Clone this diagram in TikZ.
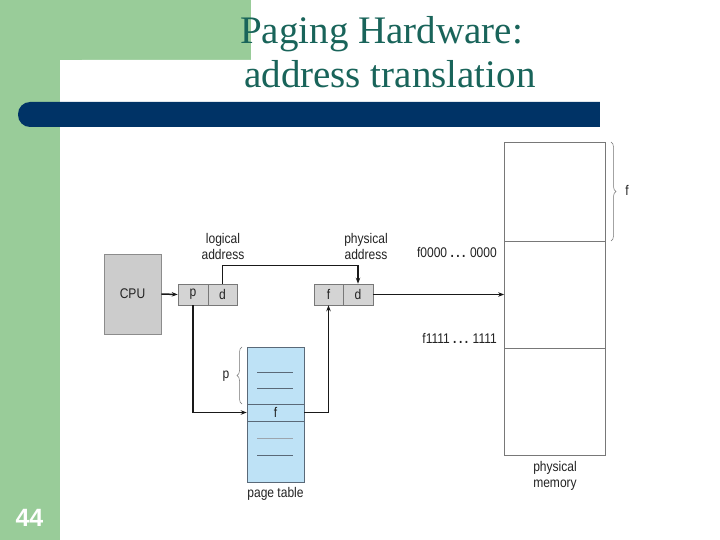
\documentclass[tikz,border=0pt]{standalone}
\usepackage{fontspec}
\setmainfont{Liberation Serif}
\newfontfamily\diag[FakeStretch=0.86]{Liberation Sans}
\newfontfamily\numfont{Liberation Sans}
\usetikzlibrary{arrows.meta,decorations.pathreplacing}
\definecolor{slidegreen}{RGB}{153,204,153}
\definecolor{barblue}{RGB}{0,51,102}
\definecolor{titleteal}{RGB}{25,100,90}
\definecolor{cellgray}{RGB}{212,212,212}
\definecolor{cellline}{RGB}{120,120,120}
\definecolor{ptblue}{RGB}{190,226,246}
\definecolor{ptline}{RGB}{90,105,120}
\definecolor{diagtext}{RGB}{35,35,35}
\newcommand{\mydots}{{\bfseries .\hspace{2.5pt}.\hspace{2.5pt}.}}
\begin{document}
\begin{tikzpicture}[x=1pt,y=-1pt,
  lbl/.style={font=\diag\fontsize{14}{16}\selectfont, text=diagtext, inner sep=0pt, align=center},
  cell/.style={draw=cellline, fill=cellgray, line width=0.6pt, minimum height=21pt, inner sep=0pt, text=diagtext, font=\diag\fontsize{14}{16}\selectfont},
  memcell/.style={draw=cellline, fill=white, line width=0.7pt, minimum width=101pt, inner sep=0pt},
  arr/.style={line width=1.5pt, draw=black!90, -{Stealth[length=6pt,width=4.5pt]}},
  brc/.style={draw=black!55, line width=0.5pt, decorate, decoration={brace, amplitude=5pt}}
]
\useasboundingbox (0,0) rectangle (720,540);
% slide background
\fill[slidegreen] (0,0) rectangle (60,540);
\fill[slidegreen] (0,0) rectangle (251,60);
\fill[white, rounded corners=22pt] (60,60) rectangle (760,580);
\fill[barblue, rounded corners=12pt] (18,102) rectangle (640,127);
\fill[barblue] (560,102) rectangle (600,127);
\fill[white] (600,100) rectangle (660,130);
% title
\node[anchor=base west, inner sep=0pt, text=titleteal, font=\fontsize{39}{44}\selectfont] (t1) at (240,44) {Paging Hardware:};
\node[anchor=base west, inner sep=0pt, text=titleteal, font=\fontsize{39}{44}\selectfont] (t2) at (244,88) {address translation};
\node[inner sep=0pt, text=white, font=\numfont\bfseries\fontsize{25}{27}\selectfont] (num) at (29.5,517.5) {44};
% CPU
\node[cell, minimum width=57pt, minimum height=80pt, fill=black!20, draw=black!45] (cpu) at (132.5,294) {CPU};
% logical address
\node[cell, minimum width=30pt] (p) at (193,294.5) {p};
\node[cell, minimum width=29pt] (d1) at (222.5,294.5) {d};
\node[lbl] (la) at (223,246) {logical\\address};
% physical address
\node[cell, minimum width=29pt] (f) at (328.5,294.5) {f};
\node[cell, minimum width=30pt] (d2) at (358,294.5) {d};
\node[lbl] (pa) at (366,246) {physical\\address};
% page table
\node[draw=ptline, fill=ptblue, line width=0.6pt, minimum width=57pt, minimum height=135pt, inner sep=0pt] (pt) at (275.5,414.5) {};
\node[draw=ptline, fill=ptblue, line width=0.6pt, minimum width=57pt, minimum height=17pt, inner sep=0pt, text=diagtext, font=\diag\fontsize{14}{16}\selectfont] (ptf) at (275.5,412.5) {f};
\draw[ptline, line width=0.7pt] (257,372) -- (293,372) (257,388) -- (293,388);
\draw[ptline!60, line width=0.7pt] (257,438) -- (293,438);
\draw[ptline, line width=0.7pt] (257,455) -- (293,455);
\draw[brc] (242,404) -- (242,347);
\node[lbl] (plab) at (226,376) {p};
\node[lbl] (ptl) at (275.5,494) {page table};
% physical memory
\node[memcell, minimum height=99pt] (m1) at (555,191.5) {};
\node[memcell, minimum height=107pt] (m2) at (555,294.5) {};
\node[memcell, minimum height=107pt] (m3) at (555,401.5) {};
\draw[brc] (611,142) -- (611,241);
\node[lbl] (flab) at (627,190) {f};
\node[lbl, anchor=east] (a0) at (497,253) {f0000 \mydots{} 0000};
\node[lbl, anchor=east] (a1) at (497,338) {f1111 \mydots{} 1111};
\node[lbl] (pm) at (555,476) {physical\\memory};
% connectors
\draw[arr] (cpu.east) -- (p.west);
\draw[arr] (d1.north) -- ++(0,-18) -| (d2.north);
\draw[arr] (d2.east) -- (m2.west);
\draw[arr] (p.south) |- (ptf.west);
\draw[arr] (ptf.east) -| (f.south);
\end{tikzpicture}
\end{document}
